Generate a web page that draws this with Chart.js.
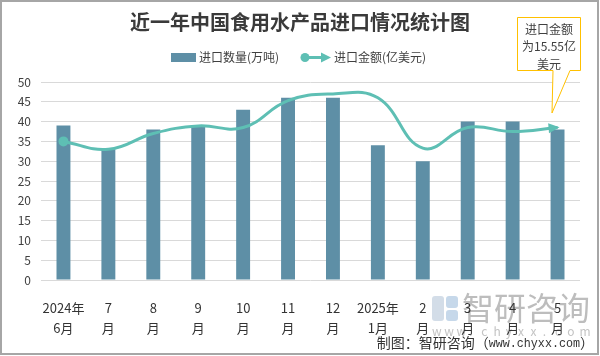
<!DOCTYPE html>
<html><head><meta charset="utf-8">
<script src="https://cdn.jsdelivr.net/npm/chart.js@4.4.1/dist/chart.umd.min.js"></script>
<style>
html,body{margin:0;padding:0;background:#fff;}
#wrap{width:600px;height:356px;position:relative;}
canvas{display:block;}
</style></head><body>
<div id="wrap"><canvas id="c" width="600" height="356"></canvas></div>
<script>
const categories = [['2024年','6月'],['7','月'],['8','月'],['9','月'],['10','月'],['11','月'],['12','月'],['2025年','1月'],['2','月'],['3','月'],['4','月'],['5','月']];
const importVolume = [39,33,38,39,43,46,46,34,30,40,40,38];
const importValue = [35,33,37,38.9,38.5,45.3,47,46,33.3,38.5,37.5,38.5];
const seriesNames = ['进口数量(万吨)','进口金额(亿美元)'];
const yMin = 0, yMax = 50, yStep = 5;
const titleText = '近一年中国食用水产品进口情况统计图';
const calloutLines = ['进口金额','为15.55亿','美元'];
const footerPrefix = '制图：智研咨询（';
const footerSite = 'www.chyxx.com';
const footerSuffix = '）';

const BAR = '#5e8fa6';
const LINE = '#5ebfb4';
const FONT = '"Noto Sans CJK SC","Noto Sans",sans-serif';

const decor = {
  id:'decor',
  beforeDraw(chart){
    const ctx = chart.ctx;
    ctx.save();
    ctx.fillStyle = '#d3dde8';
    ctx.beginPath();
    ctx.roundRect(432,296,12,25,3);
    ctx.fill();
    ctx.fillStyle = '#c6d8ea';
    ctx.beginPath();
    ctx.roundRect(446,296,12,12,3);
    ctx.roundRect(446,310,12,11,3);
    ctx.fill();
    ctx.fillStyle = '#bdbdbd';
    ctx.font = '32px ' + FONT;
    ctx.textAlign='left'; ctx.textBaseline='middle';
    ctx.fillText('智研咨询', 462, 308);
    ctx.font = '12px ' + FONT;
    ctx.fillStyle = '#c4c4c4';
    const w = 'www.chyxx.com';
    for(let i=0;i<w.length;i++){ ctx.fillText(w[i], 432 + i*12.3, 331); }
    ctx.restore();
  },
  afterDatasetsDraw(chart){
    const ctx = chart.ctx;
    const meta = chart.getDatasetMeta(1);
    const pts = meta.data;
    const last = pts[pts.length-1];
    let dx = last.x - (last.cp1x ?? pts[pts.length-2].x);
    let dy = last.y - (last.cp1y ?? pts[pts.length-2].y);
    const len = Math.hypot(dx,dy) || 1; dx/=len; dy/=len;
    const L = 11, W = 5;
    const tx = last.x + dx*2, ty = last.y + dy*2;
    ctx.save();
    ctx.fillStyle = LINE;
    ctx.beginPath();
    ctx.moveTo(tx,ty);
    ctx.lineTo(tx - dx*L - dy*W, ty - dy*L + dx*W);
    ctx.lineTo(tx - dx*L + dy*W, ty - dy*L - dx*W);
    ctx.closePath(); ctx.fill();
    ctx.restore();
  },
  afterDraw(chart){
    const ctx = chart.ctx;
    ctx.save();
    ctx.fillStyle = '#3a3a3a';
    ctx.font = 'bold 20px ' + FONT;
    ctx.textAlign='center'; ctx.textBaseline='middle';
    ctx.fillText(titleText, 300, 22);
    ctx.font = '12px ' + FONT;
    ctx.textAlign='left';
    ctx.fillStyle = BAR;
    ctx.fillRect(171,53,25,9);
    ctx.fillStyle = '#404040';
    ctx.fillText(seriesNames[0], 199, 57.5);
    ctx.strokeStyle = LINE; ctx.lineWidth = 3;
    ctx.beginPath(); ctx.moveTo(305,57.5); ctx.lineTo(324,57.5); ctx.stroke();
    ctx.fillStyle = LINE;
    ctx.beginPath(); ctx.arc(305,57.5,4.5,0,Math.PI*2); ctx.fill();
    ctx.beginPath(); ctx.moveTo(331,57.5); ctx.lineTo(321,52.5); ctx.lineTo(321,62.5); ctx.closePath(); ctx.fill();
    ctx.fillStyle = '#404040';
    ctx.fillText(seriesNames[1], 334, 57.5);
    ctx.fillStyle = '#fff';
    ctx.strokeStyle = '#ffc000'; ctx.lineWidth = 1;
    ctx.beginPath();
    ctx.moveTo(517.5,17.5); ctx.lineTo(580.5,17.5); ctx.lineTo(580.5,70.5);
    ctx.lineTo(570,70.5); ctx.lineTo(552,113); ctx.lineTo(553,70.5);
    ctx.lineTo(517.5,70.5); ctx.closePath();
    ctx.fill(); ctx.stroke();
    ctx.fillStyle = '#404040';
    ctx.textAlign='center';
    ctx.font = '12px ' + FONT;
    calloutLines.forEach((t,i)=>ctx.fillText(t, 549, 29 + i*17.5));
    // footer: CJK part + monospace serif site
    ctx.textAlign='left';
    ctx.fillStyle = '#333';
    const cjkFont = '14px ' + FONT, siteFont = '13px "Liberation Mono","DejaVu Sans Mono",monospace';
    ctx.font = cjkFont; const w1 = ctx.measureText(footerPrefix).width, w3 = ctx.measureText(footerSuffix).width;
    ctx.font = siteFont; const w2 = ctx.measureText(footerSite).width * 0.9;
    let x = 594 - (w1+w2+w3);
    ctx.font = cjkFont; ctx.fillText(footerPrefix, x, 343); x += w1;
    ctx.font = siteFont;
    ctx.save(); ctx.translate(x, 344); ctx.scale(0.9,1); ctx.fillText(footerSite, 0, 0); ctx.restore();
    x += w2;
    ctx.font = cjkFont; ctx.fillText(footerSuffix, x, 343);
    ctx.strokeStyle = '#a6a6a6'; ctx.lineWidth = 2;
    ctx.strokeRect(1,1,597,353);
    ctx.restore();
  }
};

new Chart(document.getElementById('c'), {
  data:{
    labels: categories,
    datasets:[
      {type:'bar', label: seriesNames[0], data: importVolume, backgroundColor: BAR,
       barPercentage:0.31, categoryPercentage:1, order:2},
      {type:'line', label: seriesNames[1], data: importValue, borderColor: LINE, backgroundColor: LINE,
       borderWidth:3, tension:0.42, pointRadius: c => c.dataIndex===0?5:0, pointHoverRadius:0,
       pointBorderWidth:0, pointBackgroundColor: LINE, order:1, fill:false}
    ]
  },
  options:{
    responsive:false, animation:false,
    layout:{padding:{top:82,left:0,right:20,bottom:0}},
    plugins:{legend:{display:false}, title:{display:false}, tooltip:{enabled:false}},
    scales:{
      x:{grid:{display:false}, border:{display:false},
         ticks:{color:'#333', font:{size:13, family:FONT, lineHeight:1.54}, padding:10, maxRotation:0, autoSkip:false},
         afterFit:s=>{s.height=76;}},
      y:{min:yMin, max:yMax, grid:{color:'#d9d9d9', drawTicks:false, lineWidth:1}, border:{display:false},
         ticks:{stepSize:yStep, color:'#404040', font:{size:12, family:FONT}, padding:10},
         afterFit:s=>{s.width=41;}}
    }
  },
  plugins:[decor]
});
</script>
</body></html>
